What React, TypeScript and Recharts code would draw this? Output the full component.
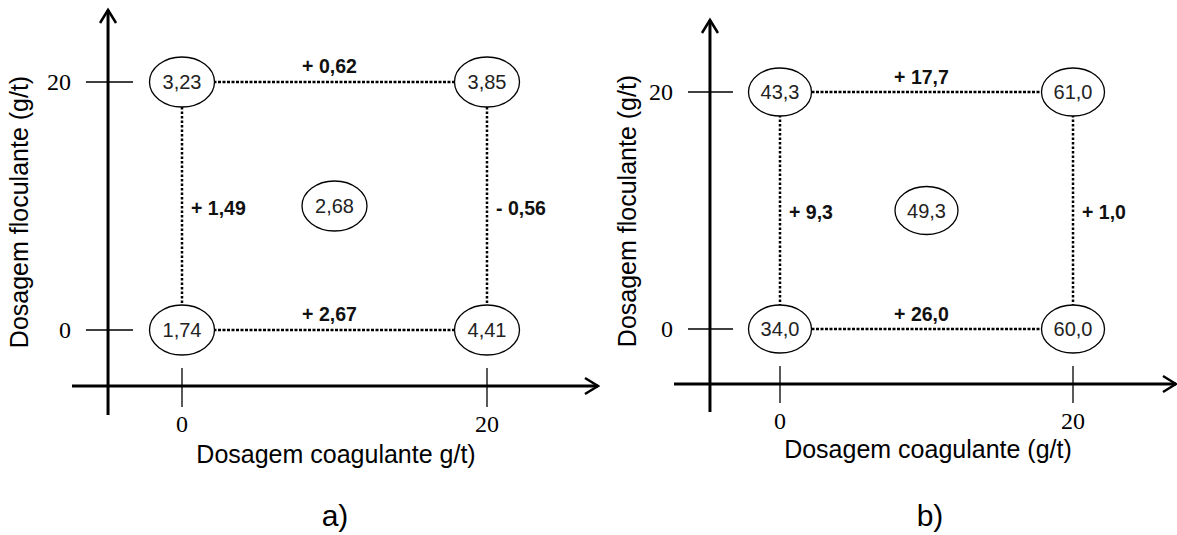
import React from "react";
import { ScatterChart, Scatter, XAxis, YAxis, ReferenceLine, Label } from "recharts";

// planejamento 2x2 com ponto central: dosagem de coagulante (x) e floculante (y)
const coagulante = [0, 20, 0, 20, 10];
const floculante = [0, 0, 20, 20, 10];
const respostaA = [1.74, 4.41, 3.23, 3.85, 2.68];
const respostaB = [34.0, 60.0, 43.3, 61.0, 49.3];

// arestas do quadrado (indices dos pontos) e efeitos escritos sobre elas
const arestas = [
  [0, 1],
  [2, 3],
  [0, 2],
  [1, 3],
];
const efeitosA = [2.67, 0.62, 1.49, -0.56];
const efeitosB = [26.0, 17.7, 9.3, 1.0];

const ticks = [0, 20];
const tituloXA = "Dosagem coagulante g/t)";
const tituloXB = "Dosagem coagulante (g/t)";
const tituloY = "Dosagem floculante (g/t)";

const SANS = "'Liberation Sans', Arial, Helvetica, sans-serif";
const SERIF = "'Liberation Serif', 'Times New Roman', Times, serif";

const fmt = (v: number, d: number) => v.toFixed(d).replace(".", ",");
const fmtEfeito = (v: number, d: number) =>
  `${v < 0 ? "-" : "+"} ${fmt(Math.abs(v), d)}`;

interface Panel {
  left: number;
  width: number;
  marginTop: number;
  marginRight: number;
  yAxisWidth: number;
  xAxisHeight: number;
  xDomain: [number, number];
  yDomain: [number, number];
  axisX: number;
  axisY: number;
  yTickSpan: [number, number];
  xTickSpan: [number, number];
  rx: number;
  ry: number;
  decimals: number;
  respostas: number[];
  efeitos: number[];
  tituloX: string;
  letra: string;
  xTitleDy: number;
  xTitleDx: number;
  letraDy: number;
  letraDx: number;
  yTitleDx: number;
  yTitleCy: number;
}

const painelA: Panel = {
  left: 0,
  width: 600,
  marginTop: 10,
  marginRight: 2,
  yAxisWidth: 72,
  xAxisHeight: 120,
  xDomain: [-7.213, 27.279],
  yDomain: [-6.855, 25.806],
  axisX: -4.85,
  axisY: -4.52,
  yTickSpan: [-6.3, -3.21],
  xTickSpan: [-6.21, -3.06],
  rx: 32.5,
  ry: 25,
  decimals: 2,
  respostas: respostaA,
  efeitos: efeitosA,
  tituloX: tituloXA,
  letra: "a)",
  xTitleDy: 48,
  xTitleDx: 1,
  letraDy: 111,
  letraDx: 0,
  yTitleDx: -44,
  yTitleCy: 202,
};

const painelB: Panel = {
  left: 590,
  width: 587,
  marginTop: 20,
  marginRight: 1,
  yAxisWidth: 84,
  xAxisHeight: 123,
  xDomain: [-7.235, 27.03],
  yDomain: [-7.004, 26.076],
  axisX: -4.78,
  axisY: -4.64,
  yTickSpan: [-6.28, -3.21],
  xTickSpan: [-6.24, -3.12],
  rx: 31.5,
  ry: 24,
  decimals: 1,
  respostas: respostaB,
  efeitos: efeitosB,
  tituloX: tituloXB,
  letra: "b)",
  xTitleDy: 46,
  xTitleDx: 3,
  letraDy: 114,
  letraDx: 5,
  yTitleDx: -38,
  yTitleCy: 191,
};

const ArrowLine = (props: any) => {
  const { x1, y1, x2, y2 } = props;
  const ang = Math.atan2(y2 - y1, x2 - x1);
  const len = 13;
  const half = 8;
  const bx = x2 - len * Math.cos(ang);
  const by = y2 - len * Math.sin(ang);
  const px = -Math.sin(ang) * half;
  const py = Math.cos(ang) * half;
  return (
    <g>
      <line x1={x1} y1={y1} x2={x2} y2={y2} stroke="#000" strokeWidth={3} />
      <polyline
        points={`${bx + px},${by + py} ${x2},${y2} ${bx - px},${by - py}`}
        fill="none"
        stroke="#000"
        strokeWidth={2.5}
      />
    </g>
  );
};

const XTick = (props: any) => {
  const { x, y, payload } = props;
  return (
    <text x={x} y={y} dy="0.7em" textAnchor="middle" fontFamily={SERIF} fontSize={24} fill="#000">
      {payload.value}
    </text>
  );
};

const YTick = (props: any) => {
  const { x, y, payload } = props;
  return (
    <text x={x} y={y} dy="0.34em" textAnchor="end" fontFamily={SERIF} fontSize={24} fill="#000">
      {payload.value}
    </text>
  );
};

const Elipse = (props: any) => {
  const { cx, cy, payload, rx, ry } = props;
  return (
    <g>
      <ellipse cx={cx} cy={cy} rx={rx} ry={ry} fill="#fff" stroke="#000" strokeWidth={1.3} />
      <text
        x={cx}
        y={cy}
        dy="0.35em"
        textAnchor="middle"
        fontFamily={SANS}
        fontSize={20}
        fill="#222"
      >
        {payload.v}
      </text>
    </g>
  );
};

const EfeitoLabel = (props: any) => {
  const { cx, cy, payload } = props;
  const common = { fontFamily: SANS, fontSize: 19.5, fontWeight: "bold", fill: "#111" };
  if (payload.vertical) {
    return (
      <text x={cx + 9} y={cy + 2} dy="0.35em" textAnchor="start" {...common}>
        {payload.t}
      </text>
    );
  }
  return (
    <text x={cx - 5} y={cy - 8.5} textAnchor="middle" {...common}>
      {payload.t}
    </text>
  );
};

const Grafico = ({ p }: { p: Panel }) => {
  const pontos = coagulante.map((x, i) => ({
    x,
    y: floculante[i],
    v: fmt(p.respostas[i], p.decimals),
  }));
  const segmentos = arestas.map(([a, b]) => [pontos[a], pontos[b]]);
  const rotulos = arestas.map(([a, b], i) => ({
    x: (pontos[a].x + pontos[b].x) / 2,
    y: (pontos[a].y + pontos[b].y) / 2,
    vertical: pontos[a].x === pontos[b].x,
    t: fmtEfeito(p.efeitos[i], p.decimals),
  }));

  const xTitle = (lp: any) => {
    const vb = lp.viewBox || { x: 0, y: 0, width: 0, height: 0 };
    const cx = vb.x + vb.width / 2;
    return (
      <g>
        <text
          x={cx + p.xTitleDx}
          y={vb.y + p.xTitleDy}
          textAnchor="middle"
          fontFamily={SANS}
          fontSize={25}
          fill="#000"
        >
          {p.tituloX}
        </text>
        <text
          x={cx + p.letraDx}
          y={vb.y + p.letraDy}
          textAnchor="middle"
          fontFamily={SANS}
          fontSize={30}
          fill="#000"
        >
          {p.letra}
        </text>
      </g>
    );
  };

  const yTitle = (lp: any) => {
    const vb = lp.viewBox || { x: 0, y: 0, width: 0, height: 0 };
    const x = vb.x + vb.width + p.yTitleDx;
    const y = vb.y + p.yTitleCy;
    return (
      <text
        x={x}
        y={y}
        transform={`rotate(-90, ${x}, ${y})`}
        textAnchor="middle"
        fontFamily={SANS}
        fontSize={25}
        fill="#000"
      >
        {tituloY}
      </text>
    );
  };

  return (
    <div style={{ position: "absolute", left: p.left, top: 0 }}>
      <ScatterChart
        width={p.width}
        height={535}
        margin={{ top: p.marginTop, right: p.marginRight, bottom: 0, left: 0 }}
      >
        <XAxis
          type="number"
          dataKey="x"
          domain={p.xDomain}
          allowDataOverflow
          ticks={ticks}
          axisLine={false}
          tickLine={false}
          tickSize={0}
          tickMargin={0}
          height={p.xAxisHeight}
          tick={XTick}
        >
          <Label content={xTitle} />
        </XAxis>
        <YAxis
          type="number"
          dataKey="y"
          domain={p.yDomain}
          allowDataOverflow
          ticks={ticks}
          axisLine={false}
          tickLine={false}
          tickSize={0}
          tickMargin={1}
          width={p.yAxisWidth}
          tick={YTick}
        >
          <Label content={yTitle} />
        </YAxis>

        <ReferenceLine
          segment={[
            { x: p.axisX, y: p.yDomain[0] },
            { x: p.axisX, y: p.yDomain[1] },
          ]}
          ifOverflow="visible"
          shape={ArrowLine}
        />
        <ReferenceLine
          segment={[
            { x: p.xDomain[0], y: p.axisY },
            { x: p.xDomain[1], y: p.axisY },
          ]}
          ifOverflow="visible"
          shape={ArrowLine}
        />
        {ticks.map((t) => (
          <ReferenceLine
            key={`ty${t}`}
            segment={[
              { x: p.yTickSpan[0], y: t },
              { x: p.yTickSpan[1], y: t },
            ]}
            ifOverflow="visible"
            stroke="#000"
            strokeWidth={1.3}
          />
        ))}
        {ticks.map((t) => (
          <ReferenceLine
            key={`tx${t}`}
            segment={[
              { x: t, y: p.xTickSpan[0] },
              { x: t, y: p.xTickSpan[1] },
            ]}
            ifOverflow="visible"
            stroke="#000"
            strokeWidth={1.3}
          />
        ))}

        {segmentos.map((seg, i) => (
          <Scatter
            key={`seg${i}`}
            data={seg}
            line={{
              stroke: "#000",
              strokeWidth: 2.5,
              strokeDasharray: seg[0].y === seg[1].y ? "3 1.5" : "2.5 2",
            }}
            shape={() => <g />}
            isAnimationActive={false}
          />
        ))}
        <Scatter data={rotulos} shape={EfeitoLabel} isAnimationActive={false} />
        <Scatter
          data={pontos}
          shape={(sp: any) => <Elipse {...sp} rx={p.rx} ry={p.ry} />}
          isAnimationActive={false}
        />
      </ScatterChart>
    </div>
  );
}

export default function App() {
  return (
    <div
      style={{
        position: "absolute",
        left: 0,
        top: 0,
        width: 1177,
        height: 535,
        background: "#fff",
      }}
    >
      <Grafico p={painelA} />
      <Grafico p={painelB} />
    </div>
  );
}
